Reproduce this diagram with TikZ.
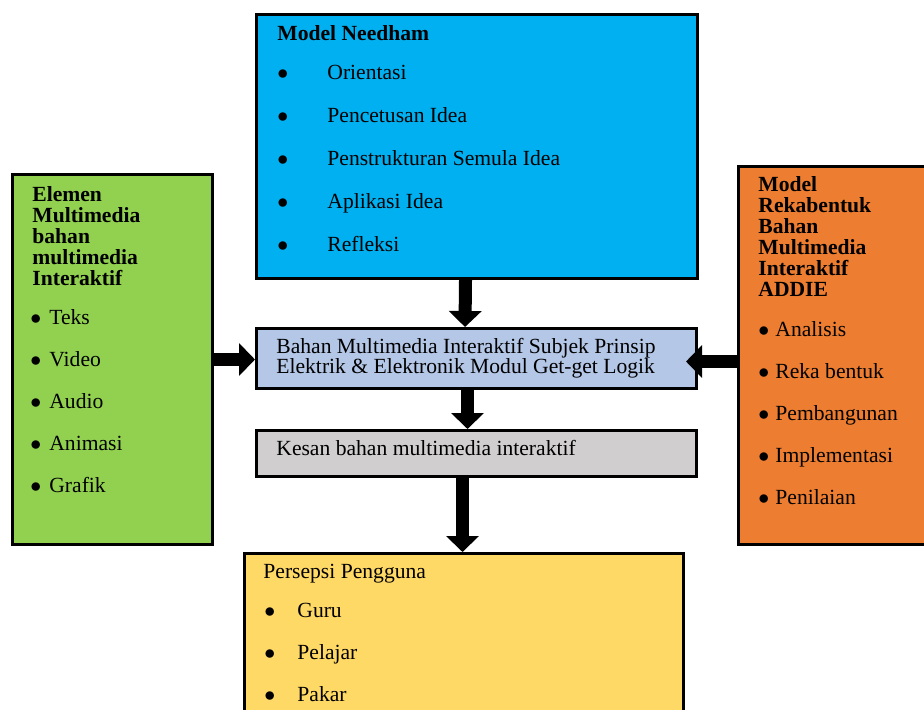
\documentclass[tikz,border=0pt]{standalone}
\usepackage{fontspec}
\setmainfont{Liberation Serif}
\usepackage{tikz}
\usetikzlibrary{arrows.meta,positioning}

\definecolor{needhamblue}{HTML}{00B0F0}
\definecolor{elemengreen}{HTML}{92D050}
\definecolor{addieorange}{HTML}{ED7D31}
\definecolor{bahanblue}{HTML}{B4C7E7}
\definecolor{kesangrey}{HTML}{D0CECE}
\definecolor{persepsiyellow}{HTML}{FFD966}

\newcommand{\blt}{\raisebox{-0.2pt}{$\bullet$}}

\begin{document}
\begin{tikzpicture}[x=0.5pt,y=-0.5pt,
    font=\fontsize{10.8}{10}\selectfont,
    box/.style={draw, line width=1.5pt, inner sep=0pt, anchor=north west},
    txt/.style={anchor=base west, inner sep=0pt},
    head/.style={txt, font=\fontsize{10.8}{10}\selectfont\bfseries},
    bigarrow/.style={line width=6.5pt, -{Triangle[width=16pt,length=8pt]}}]
      \clip (0,0) rectangle (924,709);
      \useasboundingbox (0,0) rectangle (924,709);

      \node[box, fill=needhamblue, minimum width=220.5pt, minimum height=132pt] (needham) at (255,13) {};
      \node[box, fill=elemengreen, minimum width=100pt, minimum height=185pt] (elemen) at (11,173) {};
      \node[box, fill=addieorange, minimum width=112pt, minimum height=189pt] (addie) at (737,165) {};
      \node[box, fill=bahanblue, minimum width=220pt, minimum height=30pt] (bahan) at (255,327) {};
      \node[box, fill=kesangrey, minimum width=220pt, minimum height=23pt] (kesan) at (255,429) {};
      \node[box, fill=persepsiyellow, minimum width=219.5pt, minimum height=94pt] (persepsi) at (243,552) {};

      \node[head] (needhamhead) at (277,40) {Model Needham};
      \foreach \item [count=\i] in {Orientasi, Pencetusan Idea, Penstrukturan Semula Idea, Aplikasi Idea, Refleksi}
        \node[txt] (needham\i) at (277,36+43*\i) {\makebox[25pt][l]{\blt}\item};

      \foreach \line [count=\i] in {Elemen, Multimedia, bahan, multimedia, Interaktif}
        \node[head] (elemenhead\i) at (32,180+21*\i) {\line};
      \foreach \item [count=\i] in {Teks, Video, Audio, Animasi, Grafik}
        \node[txt] (elemen\i) at (30,282+42*\i) {\makebox[9.5pt][l]{\blt}\item};

      \foreach \line [count=\i] in {Model, Rekabentuk, Bahan, Multimedia, Interaktif, ADDIE}
        \node[head] (addiehead\i) at (758,170+21*\i) {\line};
      \foreach \item [count=\i] in {Analisis, Reka bentuk, Pembangunan, Implementasi, Penilaian}
        \node[txt] (addie\i) at (758,294+42*\i) {\makebox[8.5pt][l]{\blt}\item};

      \node[txt] (bahan1) at (276,353) {Bahan Multimedia Interaktif Subjek Prinsip};
      \node[txt] (bahan2) at (276,373) {Elektrik \& Elektronik Modul Get-get Logik};
      \node[txt] (kesantext) at (276,455) {Kesan bahan multimedia interaktif};

      \node[txt] (persepsihead) at (263,578) {Persepsi Pengguna};
      \foreach \item [count=\i] in {Guru, Pelajar, Pakar}
        \node[txt] (persepsi\i) at (264,575+42*\i) {\makebox[16.5pt][l]{\blt}\item};

      \draw[bigarrow] ([xshift=-5.75pt]needham.south) -- ([xshift=-5.75pt]bahan.north);
      \draw[bigarrow] ([xshift=-4.5pt]bahan.south) -- ([xshift=-4.5pt]kesan.north);
      \draw[bigarrow] ([xshift=-7pt]kesan.south) -- ([xshift=-7pt]kesan.south |- persepsi.north);
      \draw[bigarrow] (elemen.east) -- (elemen.east -| bahan.west);
      \draw[bigarrow] ([yshift=-1.5pt]addie.west |- bahan.east) -- ([xshift=-6pt,yshift=-1.5pt]bahan.east);
\end{tikzpicture}
\end{document}
